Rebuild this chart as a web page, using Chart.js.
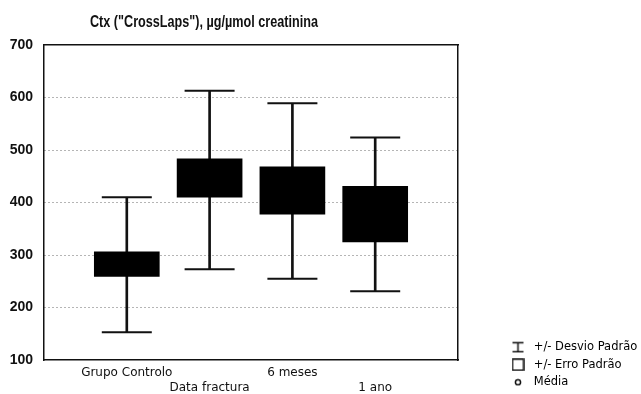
<!DOCTYPE html>
<html>
<head>
<meta charset="utf-8">
<script src="https://cdn.jsdelivr.net/npm/chart.js@4.4.1/dist/chart.umd.min.js"></script>
<style>
    html, body { margin: 0; padding: 0; background: #fff; }
    #wrap { width: 641px; height: 394px; }
</style>
</head>
<body>
<div id="wrap"><canvas id="chart"></canvas></div>
<script>
const TITLE = 'Ctx ("CrossLaps"), µg/µmol creatinina';
const CATEGORIES = ['Grupo Controlo', 'Data fractura', '6 meses', '1 ano'];
const MEANS = [283, 446, 423, 378];
const SE_LOW = [259, 410, 378, 325];
const SE_HIGH = [306, 483, 468, 431];
const SD_LOW = [153, 273, 255, 231];
const SD_HIGH = [410, 613, 589, 524];
const Y_MIN = 100;
const Y_MAX = 700;
const Y_STEP = 100;
const LEGEND_LABELS = ['+/- Desvio Padrão', '+/- Erro Padrão', 'Média'];

const INK = '#111';

// small canvases used as legend symbols
function makeIcon(w, h, draw) {
    const c = document.createElement('canvas');
    c.width = w;
    c.height = h;
    const g = c.getContext('2d');
    g.strokeStyle = INK;
    g.lineWidth = 1.5;
    draw(g);
    return c;
}

const ICONS = [
    makeIcon(13, 12, g => {
        g.beginPath();
        g.moveTo(1, 1.5); g.lineTo(12, 1.5);
        g.moveTo(6.5, 1.5); g.lineTo(6.5, 10.5);
        g.moveTo(1, 10.5); g.lineTo(12, 10.5);
        g.stroke();
    }),
    makeIcon(13, 13, g => g.strokeRect(1, 1, 11, 11)),
    makeIcon(8, 8, g => {
        g.beginPath();
        g.arc(4, 4, 2.6, 0, Math.PI * 2);
        g.stroke();
    })
];

const xPos = i => i + 1;

const titlePlugin = {
    id: 'sideTitle',
    afterDraw(chart) {
        const ctx = chart.ctx;
        ctx.save();
        ctx.font = 'bold 16px "Liberation Sans", Arial, sans-serif';
        ctx.fillStyle = INK;
        ctx.textAlign = 'center';
        ctx.textBaseline = 'middle';
        const w = ctx.measureText(TITLE).width;
        ctx.translate(204, 23);
        ctx.scale(228 / w, 1);
        ctx.fillText(TITLE, 0, 0);
        ctx.restore();
    }
};

new Chart(document.getElementById('chart'), {
    type: 'bar',
    data: {
        datasets: [
            {
                label: 'Média',
                type: 'line',
                showLine: false,
                data: MEANS.map((v, i) => ({ x: xPos(i), y: v })),
                pointStyle: 'circle',
                pointRadius: 2,
                backgroundColor: '#000',
                borderColor: '#000'
            },
            {
                label: 'caps',
                type: 'line',
                showLine: false,
                data: SD_HIGH.map((v, i) => ({ x: xPos(i), y: v }))
                    .concat(SD_LOW.map((v, i) => ({ x: xPos(i), y: v }))),
                pointStyle: 'line',
                pointRadius: 25,
                pointBorderWidth: 2,
                borderColor: INK
            },
            {
                label: 'Erro Padrão',
                data: SE_LOW.map((v, i) => ({ x: xPos(i), y: [v, SE_HIGH[i]] })),
                backgroundColor: '#000',
                borderWidth: 0,
                barThickness: 65,
                grouped: false
            },
            {
                label: 'Desvio Padrão',
                data: SD_LOW.map((v, i) => ({ x: xPos(i), y: [v, SD_HIGH[i]] })),
                backgroundColor: INK,
                borderWidth: 0,
                barThickness: 2,
                grouped: false
            }
        ]
    },
    options: {
        responsive: true,
        maintainAspectRatio: false,
        animation: false,
        layout: { padding: { top: 45, left: 6, right: 0, bottom: 0 } },
        scales: {
            x: {
                type: 'linear',
                min: 0,
                max: CATEGORIES.length + 1,
                offset: false,
                grid: { display: true, color: 'rgba(0,0,0,0)', drawTicks: false },
                border: { display: true, color: INK, width: 1.5 },
                afterFit: s => { s.height = 34; },
                ticks: {
                    stepSize: 1,
                    autoSkip: false,
                    maxRotation: 0,
                    padding: 5,
                    color: INK,
                    font: { family: '"DejaVu Sans", sans-serif', size: 12, lineHeight: 1.25 },
                    callback: v => {
                        const i = v - 1;
                        if (i < 0 || i >= CATEGORIES.length) return '';
                        return i % 2 === 0 ? [CATEGORIES[i], ''] : ['', CATEGORIES[i]];
                    }
                }
            },
            y: {
                min: Y_MIN,
                max: Y_MAX,
                grid: {
                    drawTicks: false,
                    lineWidth: 1,
                    color: c => (c.tick.value === Y_MIN || c.tick.value === Y_MAX) ? 'rgba(0,0,0,0)' : '#6a6a6a'
                },
                border: { display: true, color: INK, width: 1.5, dash: [1, 3] },
                afterFit: s => { s.width = 38; },
                ticks: {
                    stepSize: Y_STEP,
                    padding: 11,
                    color: INK,
                    font: { family: '"Liberation Sans", Arial, sans-serif', size: 14, weight: 'bold' }
                }
            },
            x2: {
                type: 'linear',
                position: 'top',
                display: true,
                grid: { display: false, drawTicks: false },
                ticks: { display: false },
                border: { display: true, color: INK, width: 1.5 },
                afterFit: s => { s.height = 0; }
            },
            y2: {
                type: 'linear',
                position: 'right',
                display: true,
                grid: { display: false, drawTicks: false },
                ticks: { display: false },
                border: { display: true, color: INK, width: 1.5 },
                afterFit: s => { s.width = 44; }
            }
        },
        plugins: {
            title: { display: false },
            tooltip: { enabled: false },
            legend: {
                position: 'right',
                align: 'end',
                maxWidth: 139,
                onClick: null,
                labels: {
                    usePointStyle: true,
                    pointStyleWidth: 20,
                    padding: 6,
                    color: INK,
                    font: { family: '"DejaVu Sans", sans-serif', size: 11.5 },
                    generateLabels: () => LEGEND_LABELS.map((text, i) => ({
                        text,
                        pointStyle: ICONS[i],
                        fillStyle: '#fff',
                        strokeStyle: INK,
                        lineWidth: 0,
                        hidden: false,
                        datasetIndex: i
                    }))
                }
            }
        }
    },
    plugins: [titlePlugin]
});
</script>
</body>
</html>
